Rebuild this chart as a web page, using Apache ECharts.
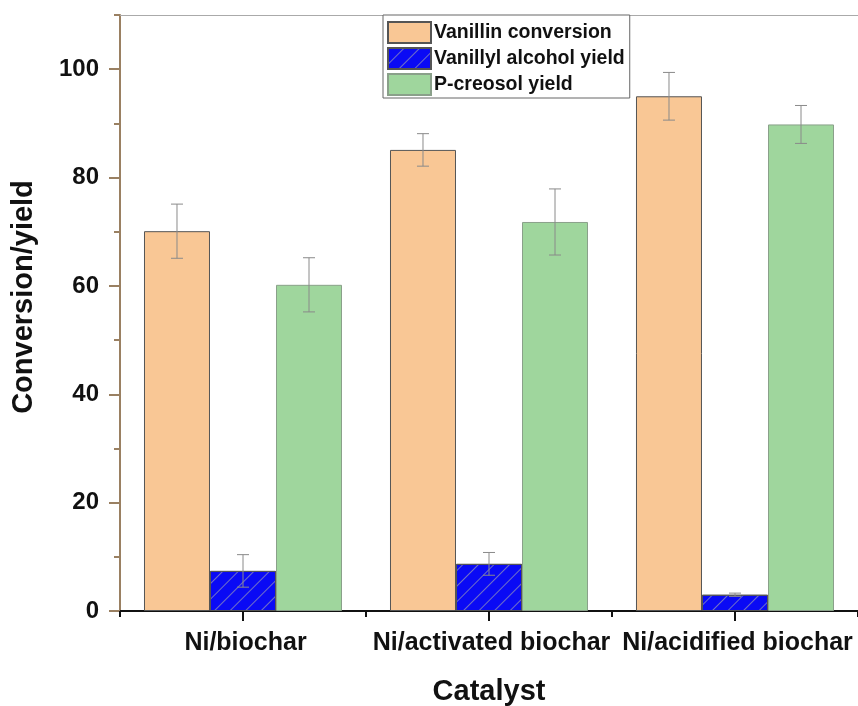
<!DOCTYPE html>
<html>
<head>
<meta charset="utf-8">
<script src="https://cdn.jsdelivr.net/npm/echarts@6/dist/echarts.min.js"></script>
<style>html,body{margin:0;padding:0;background:#fff;}#c{width:858px;height:706px;}</style>
</head>
<body>
<div id="c"></div>
<script>
const categories = ['Ni/biochar', 'Ni/activated biochar', 'Ni/acidified biochar'];
const seriesNames = ['Vanillin conversion', 'Vanillyl alcohol yield', 'P-creosol yield'];
const vanillin = [70.1, 85.1, 95.0];
const vanillinErr = [5.0, 3.0, 4.4];
const alcohol = [7.4, 8.7, 3.0];
const alcoholErr = [3.0, 2.1, 0.3];
const creosol = [60.2, 71.8, 89.8];
const creosolErr = [5.0, 6.1, 3.5];
const majorTicks = [0, 20, 40, 60, 80, 100];
const minorTicks = [10, 30, 50, 70, 90, 110];

const FONT = '"Liberation Sans", Arial, sans-serif';
const GAP = 0.195;
const chart = echarts.init(document.getElementById('c'), null, {renderer: 'canvas'});

function errSeries(vals, errs, idx) {
  return {
    type: 'custom',
    xAxisIndex: 0,
    yAxisIndex: 0,
    z: 10,
    silent: true,
    data: vals.map((v, i) => [i, v - errs[i], v + errs[i]]),
    renderItem: function (params, api) {
      const band = api.size([1, 0])[0];
      const barW = band * (1 - GAP) / 3;
      const off = (idx - 1) * barW;
      const lo = api.coord([api.value(0), api.value(1)]);
      const hi = api.coord([api.value(0), api.value(2)]);
      const x = lo[0] + off;
      const cap = 6;
      const st = {stroke: '#8a8a8a', lineWidth: 1};
      return {
        type: 'group',
        children: [
          {type: 'line', shape: {x1: x, y1: lo[1], x2: x, y2: hi[1]}, style: st},
          {type: 'line', shape: {x1: x - cap, y1: lo[1], x2: x + cap, y2: lo[1]}, style: st},
          {type: 'line', shape: {x1: x - cap, y1: hi[1], x2: x + cap, y2: hi[1]}, style: st}
        ]
      };
    }
  };
}

const option = {
  backgroundColor: '#fff',
  animation: false,
  grid: {left: 120, right: 0, top: 15, bottom: 95, containLabel: false, outerBoundsMode: 'none'},
  legend: {
    orient: 'vertical',
    left: 383,
    top: 15,
    padding: [6, 5, 2, 4],
    itemGap: 3,
    itemWidth: 43,
    itemHeight: 21,
    icon: 'rect',
    borderColor: '#666',
    borderWidth: 1,
    backgroundColor: '#fff',
    data: seriesNames,
    textStyle: {fontFamily: FONT, fontWeight: 'bold', fontSize: 19.5, color: '#111', lineHeight: 21, padding: [0, 0, 0, -2]}
  },
  xAxis: [
    {
      type: 'category',
      data: categories,
      position: 'bottom',
      axisLine: {show: true, lineStyle: {color: '#111', width: 2}},
      axisTick: {show: true, alignWithLabel: true, length: 10, lineStyle: {color: '#111', width: 2}},
      axisLabel: {interval: 0, hideOverlap: false, margin: 20, padding: [0, 0, 0, 5], fontFamily: FONT, fontWeight: 'bold', fontSize: 25, color: '#111'},
      name: 'Catalyst',
      nameLocation: 'middle',
      nameGap: 66,
      nameTextStyle: {fontFamily: FONT, fontWeight: 'bold', fontSize: 29, color: '#111'},
      splitLine: {show: false}
    },
    {
      type: 'category',
      data: categories,
      position: 'bottom',
      axisLine: {show: false},
      axisTick: {show: true, alignWithLabel: false, interval: 0, length: 6, lineStyle: {color: '#111', width: 2}},
      axisLabel: {show: false},
      splitLine: {show: false}
    },
    {
      type: 'category',
      data: categories,
      position: 'top',
      axisLine: {show: true, lineStyle: {color: '#aaa', width: 1}},
      axisTick: {show: false},
      axisLabel: {show: false},
      splitLine: {show: false}
    }
  ],
  yAxis: [
    {
      type: 'value',
      min: 0,
      max: 110,
      position: 'left',
      axisLine: {show: true, lineStyle: {color: '#9a8062', width: 2}},
      axisTick: {show: true, length: 11, customValues: majorTicks, lineStyle: {color: '#9a8062', width: 2}},
      axisLabel: {customValues: majorTicks, margin: 21, fontFamily: FONT, fontWeight: 'bold', fontSize: 24, color: '#111'},
      splitLine: {show: false},
      name: 'Conversion/yield',
      nameLocation: 'middle',
      nameGap: 82,
      nameRotate: 90,
      nameTextStyle: {fontFamily: FONT, fontWeight: 'bold', fontSize: 29, color: '#111', padding: [0, 0, 0, 32]}
    },
    {
      type: 'value',
      min: 0,
      max: 110,
      position: 'left',
      offset: 0,
      axisLine: {show: false},
      axisTick: {show: true, length: 6, customValues: minorTicks, lineStyle: {color: '#9a8062', width: 2}},
      axisLabel: {show: false},
      splitLine: {show: false}
    }
  ],
  series: [
    {
      name: seriesNames[0], type: 'bar', data: vanillin, xAxisIndex: 0, yAxisIndex: 0,
      barGap: '0%', barCategoryGap: (GAP * 100) + '%',
      itemStyle: {color: '#f9c795', borderColor: '#555', borderWidth: 1}
    },
    {
      name: seriesNames[1], type: 'bar', data: alcohol, xAxisIndex: 0, yAxisIndex: 0,
      barGap: '0%', barCategoryGap: (GAP * 100) + '%',
      itemStyle: {
        color: '#0a0af5', borderColor: '#555', borderWidth: 1,
        decal: {symbol: 'rect', symbolSize: 1, dashArrayX: [1, 0], dashArrayY: [1, 10], rotation: -Math.PI / 4, color: 'rgba(130,130,190,0.85)'}
      }
    },
    {
      name: seriesNames[2], type: 'bar', data: creosol, xAxisIndex: 0, yAxisIndex: 0,
      barGap: '0%', barCategoryGap: (GAP * 100) + '%',
      itemStyle: {color: '#9fd69d', borderColor: '#8aa08a', borderWidth: 1}
    },
    errSeries(vanillin, vanillinErr, 0),
    errSeries(alcohol, alcoholErr, 1),
    errSeries(creosol, creosolErr, 2)
  ]
};
chart.setOption(option);
</script>
</body>
</html>
